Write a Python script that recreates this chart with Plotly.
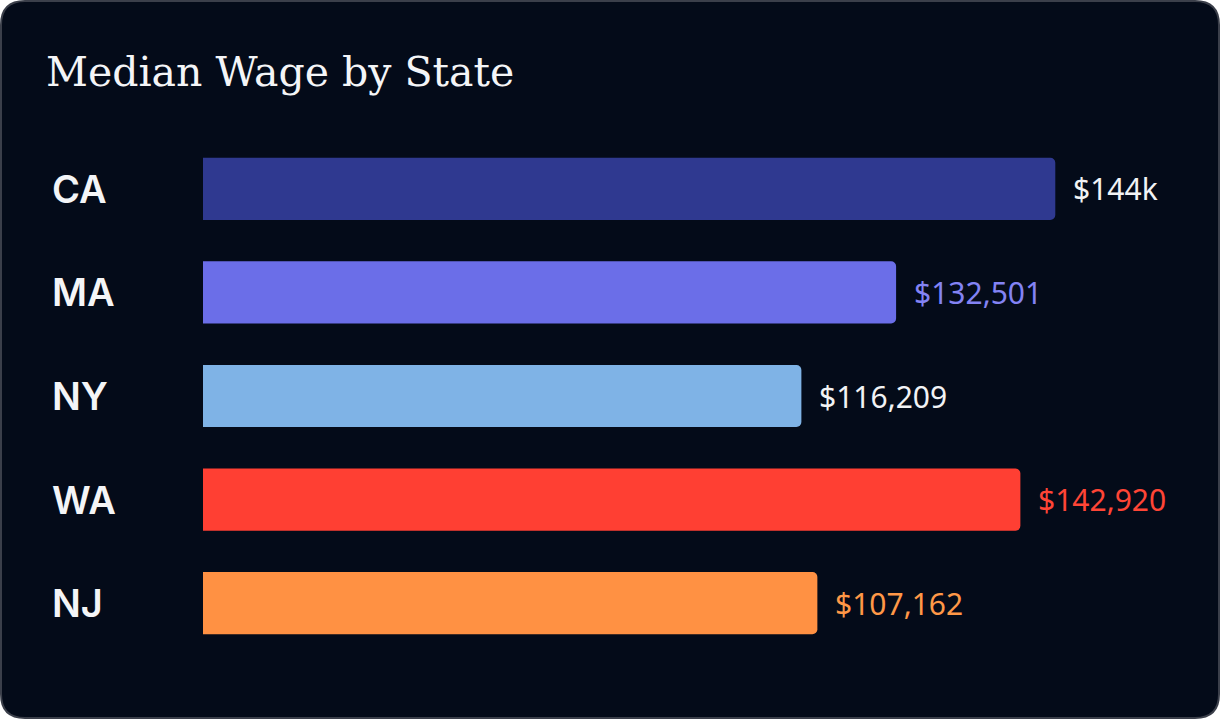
import plotly.graph_objects as go

states = ["CA", "MA", "NY", "WA", "NJ"]
values = [144000, 117100, 101100, 138100, 103800]
value_labels = ["$144k", "$132,501", "$116,209", "$142,920", "$107,162"]
bar_colors = ["#2f3990", "#6b6ee8", "#7fb3e6", "#ff3f33", "#ff9143"]
label_colors = ["#f2f3f5", "#8383f4", "#f2f3f5", "#ff4536", "#ff9847"]

W, H = 1221, 720
ML, MR, MT, MB = 203, 71, 137, 65
PW, PH = W - ML - MR, H - MT - MB
BG = "#040b19"

def px(x):
    return (x - ML) / PW

def py(y):
    return (H - MB - y) / PH

fig = go.Figure()
fig.add_trace(go.Bar(
    x=values, y=states, orientation="h",
    marker=dict(color=bar_colors, line=dict(width=0)),
    hoverinfo="skip",
))

# rounded card background
x0, x1, y0, y1, r = 1, W - 2, 1, H - 2, 24
path = (
    f"M {px(x0 + r)},{py(y0)} L {px(x1 - r)},{py(y0)} "
    f"Q {px(x1)},{py(y0)} {px(x1)},{py(y0 + r)} "
    f"L {px(x1)},{py(y1 - r)} Q {px(x1)},{py(y1)} {px(x1 - r)},{py(y1)} "
    f"L {px(x0 + r)},{py(y1)} Q {px(x0)},{py(y1)} {px(x0)},{py(y1 - r)} "
    f"L {px(x0)},{py(y0 + r)} Q {px(x0)},{py(y0)} {px(x0 + r)},{py(y0)} Z"
)
fig.add_shape(type="path", path=path, xref="paper", yref="paper",
              fillcolor=BG, line=dict(color="#3b3f4a", width=2), layer="below")

annotations = []
for s, v, lab, c in zip(states, values, value_labels, label_colors):
    annotations.append(dict(
        x=v, y=s, xref="x", yref="y", text=lab, showarrow=False,
        xanchor="left", yanchor="middle", xshift=16,
        font=dict(family="Noto Sans", size=30, color=c),
    ))
    annotations.append(dict(
        x=px(50), y=s, xref="paper", yref="y", text=s, showarrow=False,
        xanchor="left", yanchor="middle",
        font=dict(family="Inter", size=38, color="#f4f5f7", weight=600),
    ))

fig.update_layout(
    width=W, height=H,
    margin=dict(l=ML, r=MR, t=MT, b=MB),
    paper_bgcolor="#ffffff", plot_bgcolor="rgba(0,0,0,0)",
    barcornerradius=5, bargap=0.4, showlegend=False,
    title=dict(text="Median Wage by State", x=46 / W, xanchor="left", xref="container",
               y=1 - 72 / H, yanchor="middle", yref="container",
               font=dict(family="DejaVu Serif", size=41, color="#f4f5f7")),
    xaxis=dict(range=[0, 160000], visible=False, fixedrange=True),
    yaxis=dict(categoryorder="array", categoryarray=states, range=[4.5, -0.5],
               visible=False, fixedrange=True),
    annotations=annotations,
)

fig.write_html("out.html")
